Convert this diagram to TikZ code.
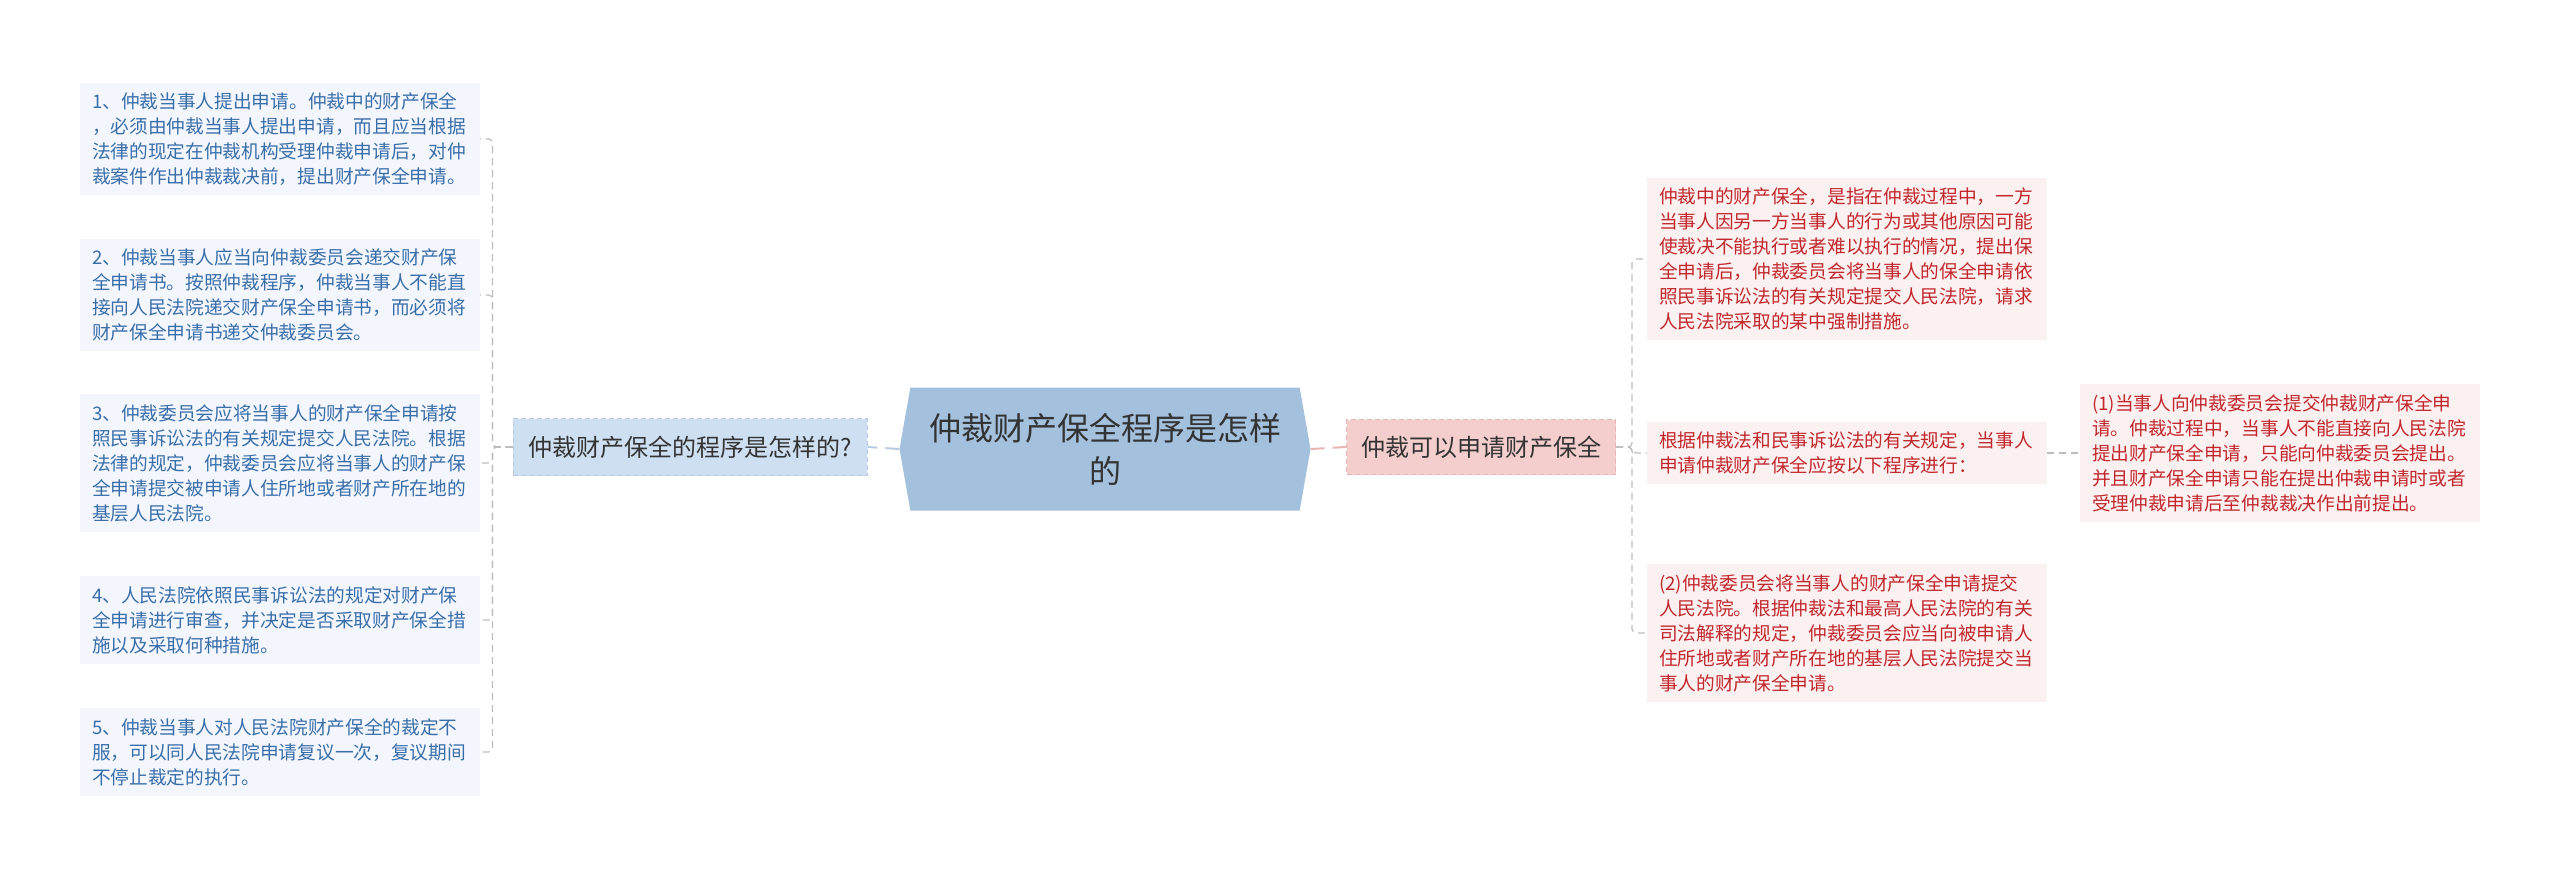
\documentclass[tikz,border=0pt]{standalone}
\usepackage{fontspec}
\setmainfont{Noto Sans CJK SC}
\usetikzlibrary{shapes.symbols}
\definecolor{rootfill}{HTML}{A3C0DD}
\definecolor{lbfill}{HTML}{CDDFF1}
\definecolor{lbdraw}{HTML}{B5CBE3}
\definecolor{rbfill}{HTML}{F4CDCD}
\definecolor{rbdraw}{HTML}{E8B4B4}
\definecolor{leafbfill}{HTML}{F3F7FD}
\definecolor{leafbtext}{HTML}{3A6EAB}
\definecolor{leafrfill}{HTML}{FCF1F1}
\definecolor{leafrtext}{HTML}{C1272D}
\definecolor{connect}{HTML}{BDBDBD}
\begin{document}
\begin{tikzpicture}[x=1pt,y=-1pt,
    leaftext/.style={font=\fontsize{18.7}{25}\selectfont,text width=376pt,align=left,
      inner xsep=12pt,inner ysep=10pt},
    leafb/.style={leaftext,fill=leafbfill,text=leafbtext},
    leafr/.style={leaftext,fill=leafrfill,text=leafrtext},
    conn/.style={draw=connect,dash pattern=on 7pt off 5pt,line width=1.2pt,rounded corners=4pt}]
  \useasboundingbox (0,0) rectangle (2560,881);

  % centre
  \node[signal,signal to=east and west,signal pointer angle=160,fill=rootfill,
    minimum width=411pt,minimum height=123pt,inner sep=0pt,text width=370pt,align=center,
    font=\fontsize{32}{43}\selectfont,text=black!80] (root) at (1105,449)
    {仲裁财产保全程序是怎样\\的};

  % first level
  \node[fill=lbfill,draw=lbdraw,dash pattern=on 5pt off 3pt,line width=1pt,minimum width=354pt,minimum height=57pt,
    font=\fontsize{24}{28}\selectfont,text=black!80] (lb) at (690,447) {仲裁财产保全的程序是怎样的?};
  \node[fill=rbfill,draw=rbdraw,dash pattern=on 5pt off 3pt,line width=1pt,minimum width=269pt,minimum height=55pt,
    font=\fontsize{24}{28}\selectfont,text=black!80] (rb) at (1481,447) {仲裁可以申请财产保全};
  \draw[draw=lbdraw,dash pattern=on 14pt off 8pt,line width=2pt] (root.west) -- (lb.east);
  \draw[draw=rbdraw,dash pattern=on 14pt off 8pt,line width=2pt] (root.east) -- (rb.west);

  % left leaves
  \foreach \n/\y/\t in {
      1/139/{1、仲裁当事人提出申请。仲裁中的财产保全\\，必须由仲裁当事人提出申请，而且应当根据\\法律的现定在仲裁机构受理仲裁申请后，对仲\\裁案件作出仲裁裁决前，提出财产保全申请。},
      2/295/{2、仲裁当事人应当向仲裁委员会递交财产保\\全申请书。按照仲裁程序，仲裁当事人不能直\\接向人民法院递交财产保全申请书，而必须将\\财产保全申请书递交仲裁委员会。},
      3/463/{3、仲裁委员会应将当事人的财产保全申请按\\照民事诉讼法的有关规定提交人民法院。根据\\法律的规定，仲裁委员会应将当事人的财产保\\全申请提交被申请人住所地或者财产所在地的\\基层人民法院。},
      4/620/{4、人民法院依照民事诉讼法的规定对财产保\\全申请进行审查，并决定是否采取财产保全措\\施以及采取何种措施。},
      5/752/{5、仲裁当事人对人民法院财产保全的裁定不\\服，可以同人民法院申请复议一次，复议期间\\不停止裁定的执行。}}{
    \node[leafb] (l\n) at (280,\y) {\t};
    \draw[conn] (lb.west) -- ++(-20,0) |- (l\n.east);
  }

  % right leaves
  \node[leafr] (r1) at (1847,259) {仲裁中的财产保全，是指在仲裁过程中，一方\\当事人因另一方当事人的行为或其他原因可能\\使裁决不能执行或者难以执行的情况，提出保\\全申请后，仲裁委员会将当事人的保全申请依\\照民事诉讼法的有关规定提交人民法院，请求\\人民法院采取的某中强制措施。};
  \node[leafr] (r2) at (1847,453) {根据仲裁法和民事诉讼法的有关规定，当事人\\申请仲裁财产保全应按以下程序进行：};
  \node[leafr] (r3) at (1847,633) {(2)仲裁委员会将当事人的财产保全申请提交\\人民法院。根据仲裁法和最高人民法院的有关\\司法解释的规定，仲裁委员会应当向被申请人\\住所地或者财产所在地的基层人民法院提交当\\事人的财产保全申请。};
  \node[leafr] (r2a) at (2280,453) {(1)当事人向仲裁委员会提交仲裁财产保全申\\请。仲裁过程中，当事人不能直接向人民法院\\提出财产保全申请，只能向仲裁委员会提出。\\并且财产保全申请只能在提出仲裁申请时或者\\受理仲裁申请后至仲裁裁决作出前提出。};
  \foreach \r in {r1,r2,r3}
    \draw[conn] (rb.east) -- ++(16,0) |- (\r.west);
  \draw[conn] (r2.east) -- (r2a.west);
\end{tikzpicture}
\end{document}
